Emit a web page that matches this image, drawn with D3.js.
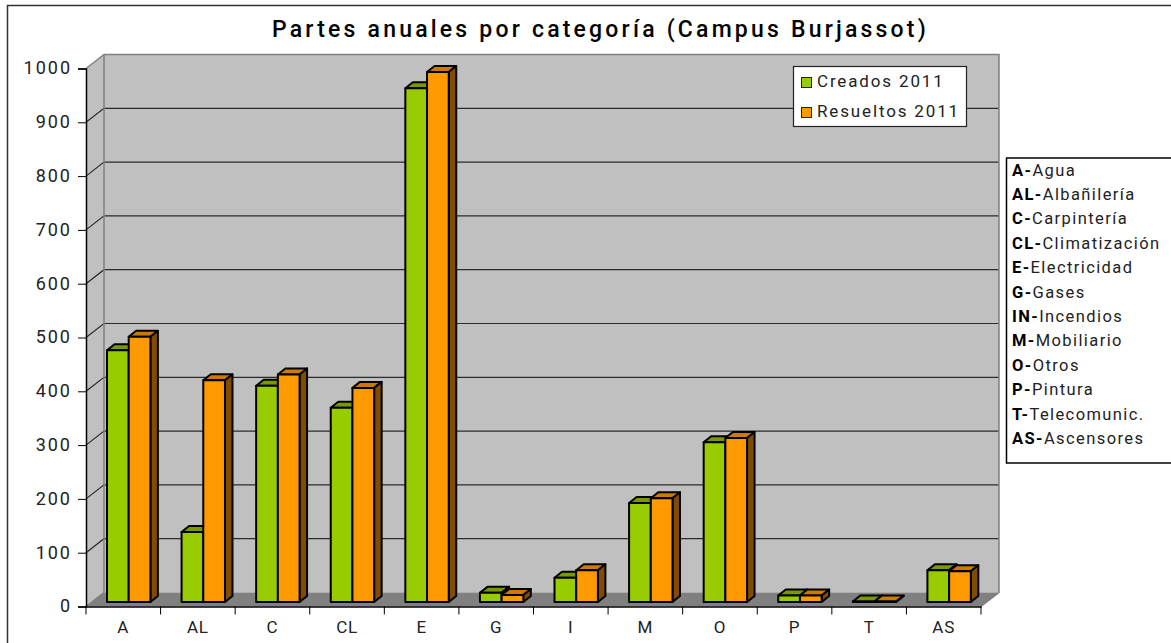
<!DOCTYPE html>
<html><head><meta charset="utf-8">
<script src="https://cdn.jsdelivr.net/npm/d3@7/dist/d3.min.js"></script>
<style>html,body{margin:0;padding:0;background:#fff}svg{display:block}text{font-family:Roboto,sans-serif;fill:#222}</style>
</head><body><svg id="c" width="1171" height="643"></svg>
<script>
const categories=["A","AL","C","CL","E","G","I","M","O","P","T","AS"];
const creados=[468,130,402,361,955,17,45,184,297,12,1,59];
const resueltos=[493,412,423,398,985,13,59,193,305,12,1,57];
const yTicks=[0,100,200,300,400,500,600,700,800,900,1000];
const glossKeys=["A-","AL-","C-","CL-","E-","G-","IN-","M-","O-","P-","T-","AS-"];
const glossNames=["Agua","Albañilería","Carpintería","Climatización","Electricidad","Gases","Incendios","Mobiliario","Otros","Pintura","Telecomunic.","Ascensores"];
const title="Partes anuales por categoría (Campus Burjassot)";
const seriesNames=["Creados 2011","Resueltos 2011"];

const svg=d3.select("#c");
const x=d3.scaleBand().domain(categories).range([86,981]).paddingInner(0).paddingOuter(0);
const y=d3.scaleLinear().domain([0,1000]).range([606.5,68.5]);
const dx=18,dy=-14, bdx=7.5,bdy=-6;
const barLift=4.5, barW=21.7, barOff=21;
const poly=(pts,fill,stroke,sw)=>svg.append("polygon").attr("points",pts.map(p=>p.join(",")).join(" ")).attr("fill",fill).attr("stroke",stroke||"none").attr("stroke-width",sw||0).attr("stroke-linejoin","round");

// frame
svg.append("rect").attr("x",7.5).attr("y",5.5).attr("width",1170).attr("height",645).attr("fill","#fff").attr("stroke","#333").attr("stroke-width",1.5);
// title
svg.append("text").attr("x",600.5).attr("y",36.5).attr("text-anchor","middle").style("font-size","23px").style("font-weight","500").style("letter-spacing","3.2px").style("fill","#000").text(title);

const [x0,x1]=x.range(), y0=y(0), yT=y(1000);
// walls
poly([[x0,y0],[x0+dx,y0+dy],[x0+dx,yT+dy],[x0,yT]],"#c0c0c0");
poly([[x0+dx,y0+dy],[x1+dx,y0+dy],[x1+dx,yT+dy],[x0+dx,yT+dy]],"#c0c0c0");
poly([[x0,y0],[x1,y0],[x1+dx,y0+dy],[x0+dx,y0+dy]],"#808080");
// grid
yTicks.filter(t=>t>0&&t<1000).forEach(t=>{
  const v=y(t);
  svg.append("path").attr("d",`M${x0},${v}L${x0+dx},${v+dy}L${x1+dx},${v+dy}`).attr("fill","none").attr("stroke","#2b2b2b").attr("stroke-width",1.2);
});
svg.append("path").attr("d",`M${x0},${y0}L${x0+dx},${y0+dy}L${x0+dx},${yT+dy}L${x1+dx},${yT+dy}L${x1+dx},${y0+dy}L${x1},${y0}M${x0},${yT}L${x0+dx},${yT+dy}`).attr("fill","none").attr("stroke","#808080").attr("stroke-width",1.5);

// axes
const yAxis=svg.append("g").attr("transform",`translate(${x0},0)`).call(d3.axisLeft(y).tickValues(yTicks).tickFormat(d3.format("d")).tickSize(8).tickPadding(6));
yAxis.selectAll("text").style("font-size","18px").style("letter-spacing","2px").attr("dy","0.3em");
const xAxisG=svg.append("g").attr("transform",`translate(0,${y0})`).call(d3.axisBottom(x).tickSize(0).tickPadding(14));
xAxisG.selectAll("text").style("font-size","17px").style("letter-spacing","0.8px");
categories.forEach(c=>xAxisG.append("line").attr("x1",x(c)).attr("x2",x(c)).attr("y2",8).attr("stroke","#000"));
xAxisG.append("line").attr("x1",x1).attr("x2",x1).attr("y2",8).attr("stroke","#000");
svg.selectAll(".domain").attr("stroke","#000").attr("stroke-width",1.5);
yAxis.selectAll(".tick line").attr("stroke","#000");

// bars
function bar(cat,val,off,front,top,side){
  const l=x(cat)+barOff+off*barW, r=l+barW, b=y(0)-barLift, t=y(val)-barLift;
  const s="#000";
  poly([[l,t],[l+bdx,t+bdy],[r+bdx,t+bdy],[r,t]],top,s,2);
  poly([[r,t],[r+bdx,t+bdy],[r+bdx,b+bdy],[r,b]],side,s,2);
  poly([[l,b],[r,b],[r,t],[l,t]],front,s,2);
}
categories.forEach((c,i)=>{
  bar(c,creados[i],0,"#99cc00","#7a9900","#4d6600");
  bar(c,resueltos[i],1,"#ff9900","#cc7a00","#7f4c00");
});

// series legend
svg.append("rect").attr("x",793.5).attr("y",66.5).attr("width",173).attr("height",60).attr("fill","#fff").attr("stroke","#222").attr("stroke-width",1.2);
const lineY=[88,118];
const cols=["#99cc00","#ff9900"];
seriesNames.forEach((n,i)=>{
  svg.append("rect").attr("x",801.5).attr("y",lineY[i]-10.5).attr("width",10).attr("height",10).attr("fill",cols[i]).attr("stroke","#222");
  svg.append("text").attr("x",817).attr("y",lineY[i]-1).style("font-size","17px").style("letter-spacing","1.85px").text(n);
});

// glossary
svg.append("rect").attr("x",1006.5).attr("y",158).attr("width",170).attr("height",305).attr("fill","#fff").attr("stroke","#000").attr("stroke-width",1.5);
glossKeys.forEach((k,i)=>{
  const t=svg.append("text").attr("x",1012).attr("y",175.5+i*24.4).style("font-size","16.5px").style("letter-spacing","1.4px");
  t.append("tspan").style("font-weight","700").style("fill","#000").text(k);
  t.append("tspan").text(glossNames[i]);
});
</script></body></html>
